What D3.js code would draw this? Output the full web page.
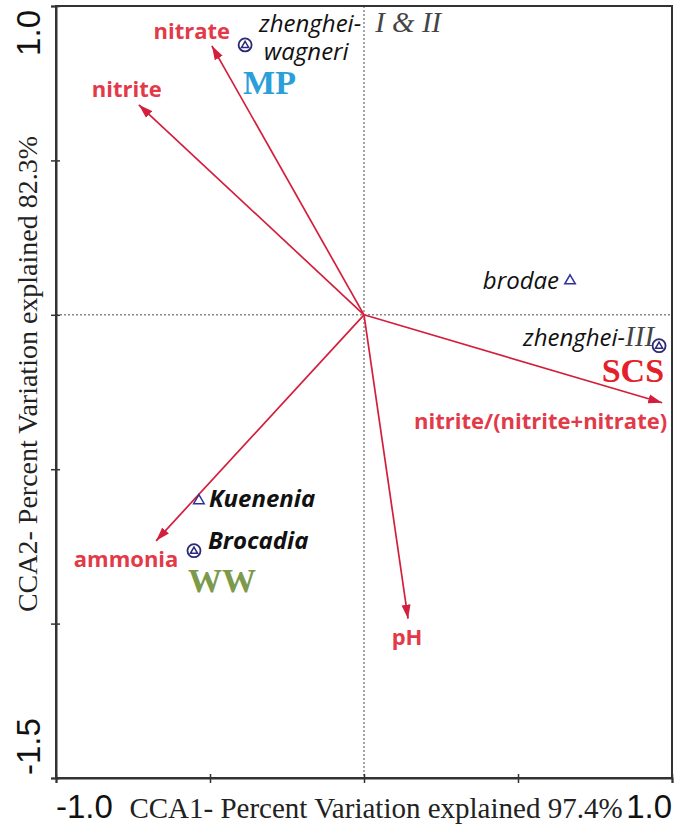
<!DOCTYPE html>
<html>
<head>
<meta charset="utf-8">
<script src="https://cdn.jsdelivr.net/npm/d3@7"></script>
<style>
  body { margin: 0; background: #fff; }
</style>
</head>
<body>
<div id="chart-area"></div>
<script>
// CCA biplot: environment arrows + anammox species

// environmental variables (arrow tips)
var envNames = ['nitrate', 'nitrite', 'nitrite/(nitrite+nitrate)', 'pH', 'ammonia'];
var envX = [-0.494, -0.731, 0.968, 0.143, -0.675];
var envY = [0.871, 0.680, -0.285, -0.984, -0.732];

// species scores
var speciesNames = ['zhenghei-wagneri', 'brodae', 'zhenghei-III', 'Kuenenia', 'Brocadia'];
var speciesX = [-0.386, 0.669, 0.958, -0.536, -0.552];
var speciesY = [0.874, 0.110, -0.100, -0.602, -0.764];
var speciesShape = ['circle', 'triangle', 'circle', 'triangle', 'circle'];

// habitat groups, tied to a species
var groupNames = ['MP', 'SCS', 'WW'];
var groupSpecies = ['zhenghei-wagneri', 'zhenghei-III', 'Brocadia'];

// axes
var xTicks = [-1, -0.5, 0, 0.5, 1];
var yTicks = [1, 0.5, 0, -0.5, -1, -1.5];
var xTickLabels = ['-1.0', '1.0'];
var xTickLabelValues = [-1, 1];
var yTickLabels = ['1.0', '-1.5'];
var yTickLabelValues = [1, -1.5];
var xTitle = 'CCA1- Percent Variation explained 97.4%';
var yTitle = 'CCA2- Percent Variation explained 82.3%';

var margins = { top: 6, bottom: 53, left: 56, right: 3 };
var W = 675, H = 831;
var width = W - margins.left - margins.right;
var height = H - margins.top - margins.bottom;

var svg = d3.select('#chart-area')
    .append('svg')
    .attr('width', W)
    .attr('height', H);

var g = svg.append('g')
    .attr('transform', `translate(${margins.left}, ${margins.top})`);

var x = d3.scaleLinear().domain([-1, 1]).range([0, width]);
var y = d3.scaleLinear().domain([-1.5, 1]).range([height, 0]);

var SANS = "'Open Sans', 'Noto Sans', sans-serif";
var SERIF = "'Liberation Serif', 'Times New Roman', serif";
var ARIAL = "'Liberation Sans', Arial, sans-serif";
var arrowCol = '#d31f3c';
var envCol = '#e23a48';
var symCol = '#2a2a78';

// zero lines
g.append('line')
    .attr('x1', x(0)).attr('x2', x(0))
    .attr('y1', 0).attr('y2', height)
    .attr('stroke', '#888').attr('stroke-width', 1.5)
    .attr('stroke-dasharray', '2,2');
g.append('line')
    .attr('x1', 0).attr('x2', width)
    .attr('y1', y(0)).attr('y2', y(0))
    .attr('stroke', '#888').attr('stroke-width', 1.5)
    .attr('stroke-dasharray', '2,2');

// frame
g.append('rect')
    .attr('x', 0).attr('y', 0)
    .attr('width', width).attr('height', height)
    .attr('fill', 'none')
    .attr('stroke', '#333')
    .attr('stroke-width', 2);

var xAxisCall = d3.axisBottom(x).tickValues(xTicks).tickSize(5).tickFormat('');
var yAxisCall = d3.axisLeft(y).tickValues(yTicks).tickSize(5).tickFormat('');

var xAxis = g.append('g')
    .attr('class', 'x-axis')
    .attr('transform', `translate(0, ${height})`)
    .call(xAxisCall);
var yAxis = g.append('g')
    .attr('class', 'y-axis')
    .call(yAxisCall);

[xAxis, yAxis].forEach(a => {
    a.select('.domain').attr('stroke', '#333').attr('stroke-width', 2);
    a.selectAll('.tick line').attr('stroke', '#333').attr('stroke-width', 1.5);
});
xAxis.selectAll('.tick line').attr('y1', -4);
yAxis.selectAll('.tick line').attr('x1', 4);

// tick labels at the ends only
xTickLabels.forEach((t, i) => {
    g.append('text')
        .attr('x', x(xTickLabelValues[i]))
        .attr('y', height + 40)
        .attr('text-anchor', i === 0 ? 'start' : 'end')
        .attr('font-family', ARIAL)
        .attr('font-size', '33px')
        .attr('fill', '#111')
        .text(t);
});
yTickLabels.forEach((t, i) => {
    g.append('text')
        .attr('transform', `translate(-16, ${y(yTickLabelValues[i]) + (i === 0 ? 4 : -3)}) rotate(-90)`)
        .attr('text-anchor', i === 0 ? 'end' : 'start')
        .attr('font-family', ARIAL)
        .attr('font-size', '33px')
        .attr('fill', '#111')
        .text(t);
});

// axis titles
g.append('text')
    .attr('x', 320)
    .attr('y', height + 40)
    .attr('text-anchor', 'middle')
    .attr('font-family', SERIF)
    .attr('font-size', '29px')
    .attr('fill', '#222')
    .text(xTitle);
g.append('text')
    .attr('transform', `translate(-19, ${368}) rotate(-90)`)
    .attr('text-anchor', 'middle')
    .attr('font-family', SERIF)
    .attr('font-size', '28px')
    .attr('fill', '#222')
    .text(yTitle);

// arrowhead
svg.append('defs').append('marker')
    .attr('id', 'head')
    .attr('markerUnits', 'userSpaceOnUse')
    .attr('viewBox', '0 -5 14 10')
    .attr('refX', 14).attr('refY', 0)
    .attr('markerWidth', 14).attr('markerHeight', 10)
    .attr('orient', 'auto')
    .append('path')
    .attr('d', 'M0,-4.5L14,0L0,4.5Z')
    .attr('fill', arrowCol);

var envData = envNames.map((n, i) => ({ name: n, x: envX[i], y: envY[i] }));

g.selectAll('.env-arrow')
    .data(envData)
    .enter()
    .append('line')
    .attr('class', 'env-arrow')
    .attr('x1', x(0)).attr('y1', y(0))
    .attr('x2', d => x(d.x)).attr('y2', d => y(d.y))
    .attr('stroke', arrowCol)
    .attr('stroke-width', 1.7)
    .attr('marker-end', 'url(#head)');

// label placement relative to arrow tips
var envLabelPos = {
    'nitrate': [-20, -7, 'middle'],
    'nitrite': [-12, -8, 'middle'],
    'nitrite/(nitrite+nitrate)': [5, 26, 'end'],
    'pH': [-1, 26, 'middle'],
    'ammonia': [-30, 26, 'middle']
};

g.selectAll('.env-label')
    .data(envData)
    .enter()
    .append('text')
    .attr('class', 'env-label')
    .attr('x', d => x(d.x) + envLabelPos[d.name][0])
    .attr('y', d => y(d.y) + envLabelPos[d.name][1])
    .attr('text-anchor', d => envLabelPos[d.name][2])
    .attr('font-family', SANS)
    .attr('font-weight', 'bold')
    .attr('font-size', '22px')
    .attr('fill', envCol)
    .text(d => d.name);

// species symbols
var spData = speciesNames.map((n, i) => ({ name: n, x: speciesX[i], y: speciesY[i], shape: speciesShape[i] }));

var sp = g.selectAll('.species')
    .data(spData)
    .enter()
    .append('g')
    .attr('class', 'species')
    .attr('transform', d => `translate(${x(d.x)}, ${y(d.y)})`);

sp.filter(d => d.shape === 'circle')
    .append('circle')
    .attr('r', 6.5)
    .attr('fill', 'none')
    .attr('stroke', symCol)
    .attr('stroke-width', 1.8);
sp.filter(d => d.shape === 'circle')
    .append('path')
    .attr('d', d3.symbol().type(d3.symbolTriangle).size(22))
    .attr('transform', 'translate(0, 0.5)')
    .attr('fill', 'none')
    .attr('stroke', symCol)
    .attr('stroke-width', 1.5);
sp.filter(d => d.shape === 'triangle')
    .append('path')
    .attr('d', d3.symbol().type(d3.symbolTriangle).size(48))
    .attr('fill', 'none')
    .attr('stroke', '#30309a')
    .attr('stroke-width', 1.5);

// species labels: [dx, dy, anchor, weight, size]
var spLabelPos = {
    'zhenghei-wagneri': [14, -13, 'start', 'normal', 24],
    'brodae': [-11, 8, 'end', 'normal', 24],
    'zhenghei-III': [-5, 0, 'end', 'normal', 24],
    'Kuenenia': [10, 6, 'start', 'bold', 24],
    'Brocadia': [14, -2, 'start', 'bold', 24]
};
// text pieces: [text, font, extra gap before]
var spLabelParts = {
    'zhenghei-wagneri': [['zhenghei-', 'sans', 0], ['I & II', 'serif', 14]],
    'brodae': [['brodae', 'sans', 0]],
    'zhenghei-III': [['zhenghei-', 'sans', 0], ['III', 'serif', 0]],
    'Kuenenia': [['Kuenenia', 'sans', 0]],
    'Brocadia': [['Brocadia', 'sans', 0]]
};

sp.each(function(d) {
    var p = spLabelPos[d.name];
    var t = d3.select(this).append('text')
        .attr('x', p[0]).attr('y', p[1])
        .attr('text-anchor', p[2])
        .attr('font-style', 'italic')
        .attr('font-weight', p[3])
        .attr('fill', '#111');
    spLabelParts[d.name].forEach(part => {
        t.append('tspan')
            .attr('dx', part[2])
            .attr('font-family', part[1] === 'serif' ? SERIF : SANS)
            .attr('font-size', part[1] === 'serif' ? '29px' : p[4] + 'px')
            .attr('fill', part[1] === 'serif' ? '#444' : '#111')
            .text(part[0]);
    });
});
// second line of the first label
sp.filter(d => d.name === 'zhenghei-wagneri')
    .append('text')
    .attr('x', 19).attr('y', 15)
    .attr('font-family', SANS)
    .attr('font-style', 'italic')
    .attr('font-size', '24px')
    .attr('fill', '#111')
    .text('wagneri');

// habitat group labels
var groupStyle = {
    'MP': [-2, 49, 'start', '#2b9fd9'],
    'SCS': [5, 36, 'end', '#e5202a'],
    'WW': [-6, 41, 'start', '#7b9a4b']
};
groupNames.forEach((n, i) => {
    var k = speciesNames.indexOf(groupSpecies[i]);
    var s = groupStyle[n];
    g.append('text')
        .attr('x', x(speciesX[k]) + s[0])
        .attr('y', y(speciesY[k]) + s[1])
        .attr('text-anchor', s[2])
        .attr('font-family', SERIF)
        .attr('font-weight', 'bold')
        .attr('font-size', '34px')
        .attr('fill', s[3])
        .text(n);
});
</script>
</body>
</html>
